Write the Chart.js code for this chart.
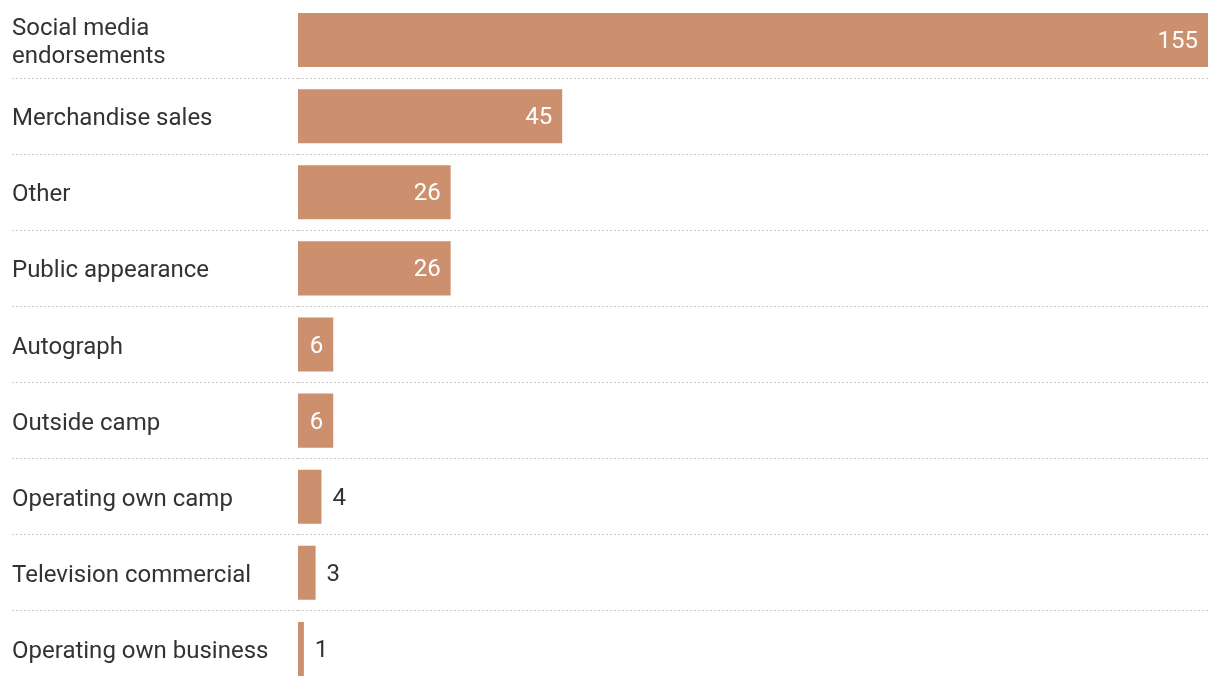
<!DOCTYPE html>
<html>
<head>
<meta charset="utf-8">
<script src="https://cdn.jsdelivr.net/npm/chart.js@4.4.1/dist/chart.umd.min.js"></script>
<style>
  html, body { margin: 0; padding: 0; background: #fff; }
  #wrap { width: 1220px; height: 690px; position: relative; }
</style>
</head>
<body>
<div id="wrap"><canvas id="c"></canvas></div>
<script>
const categories = [
  ['Social media', 'endorsements'],
  'Merchandise sales',
  'Other',
  'Public appearance',
  'Autograph',
  'Outside camp',
  'Operating own camp',
  'Television commercial',
  'Operating own business'
];
const values = [155, 45, 26, 26, 6, 6, 4, 3, 1];

const FONT = 'Roboto, "Noto Sans", sans-serif';
const BAR = '#cc906e';
const TEXT = '#333333';
const GRID = '#cccccc';

const valueLabels = {
  id: 'valueLabels',
  afterDatasetsDraw(chart) {
    const ctx = chart.ctx;
    const meta = chart.getDatasetMeta(0);
    ctx.save();
    ctx.font = '24px ' + FONT;
    ctx.textBaseline = 'middle';
    meta.data.forEach((bar, i) => {
      const v = values[i];
      const txt = String(v);
      const w = ctx.measureText(txt).width;
      const barW = bar.x - bar.base;
      if (barW >= w + 18) {
        ctx.fillStyle = '#ffffff';
        ctx.textAlign = 'right';
        ctx.fillText(txt, bar.x - 10, bar.y + 2);
      } else {
        ctx.fillStyle = TEXT;
        ctx.textAlign = 'left';
        ctx.fillText(txt, bar.x + 11, bar.y + 2);
      }
    });
    ctx.restore();
  }
};

const hideEdge = (c) => (c.index === undefined || c.index === 0) ? 'rgba(0,0,0,0)' : GRID;

new Chart(document.getElementById('c'), {
  type: 'bar',
  data: {
    labels: categories,
    datasets: [{
      data: values,
      backgroundColor: BAR,
      borderWidth: 0,
      barPercentage: 0.71,
      categoryPercentage: 1.0
    }]
  },
  options: {
    indexAxis: 'y',
    responsive: true,
    maintainAspectRatio: false,
    animation: false,
    layout: { padding: { left: 12, right: 12, top: 2, bottom: 3 } },
    plugins: { legend: { display: false }, tooltip: { enabled: false } },
    scales: {
      x: {
        display: false,
        min: 0,
        max: 155
      },
      y: {
        offset: true,
        border: { display: false, dash: [2, 2] },
        grid: {
          offset: true,
          drawTicks: true,
          tickLength: 286,
          lineWidth: 1,
          tickBorderDash: [2, 2],
          color: hideEdge,
          tickColor: hideEdge
        },
        ticks: {
          crossAlign: 'far',
          padding: 0,
          labelOffset: 3,
          color: TEXT,
          font: { family: FONT, size: 24, lineHeight: 1.17 }
        },
        afterFit(scale) {
          scale.width = 286;
          scale.paddingTop = 0;
          scale.paddingBottom = 0;
        }
      }
    }
  },
  plugins: [valueLabels]
});
</script>
</body>
</html>
